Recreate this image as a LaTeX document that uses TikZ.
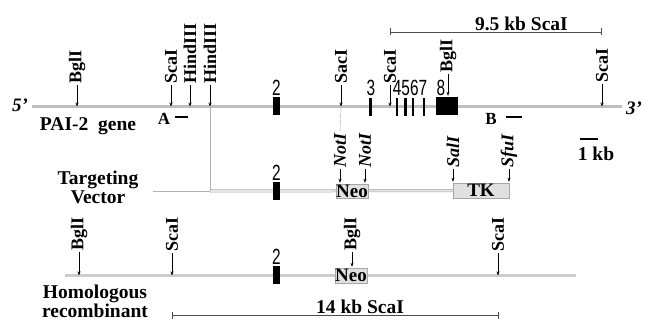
\documentclass[tikz,border=0pt]{standalone}
\usepackage{fontspec}
\usepackage{graphicx}
\setmainfont{Liberation Serif}
\setsansfont{Liberation Sans}
\usetikzlibrary{arrows.meta,positioning}
\newcommand{\exlab}[1]{\scalebox{0.7}[1]{#1}}

\begin{document}
\begin{tikzpicture}[x=1pt,y=-1pt,
  lbl/.style={font=\fontsize{19.5}{21}\selectfont\bfseries,inner sep=1pt,text=black},
  small/.style={font=\fontsize{17}{19}\selectfont\bfseries,inner sep=1pt},
  site/.style={font=\fontsize{18}{20}\selectfont\bfseries,inner sep=1pt,rotate=90,anchor=west},
  isite/.style={site,font=\fontsize{18}{20}\selectfont\bfseries\itshape},
  prime/.style={font=\fontsize{19}{21}\selectfont\bfseries\itshape,inner sep=0pt},
  exnum/.style={font=\fontsize{22}{22}\selectfont\sffamily,inner sep=0pt},
  exon/.style={fill=black,draw=none,inner sep=0pt,minimum height=18pt},
  bar/.style={fill=black,draw=none,inner sep=0pt,minimum height=2.5pt},
  gene/.style={line width=3pt,draw=black!25},
  vec/.style={line width=0.5pt,draw=black!35,double=black!10,double distance=2pt},
  thin/.style={line width=0.4pt,draw=black!30},
  box/.style={draw=black!35,fill=black!12,inner sep=0pt,font=\fontsize{19}{21}\selectfont\bfseries},
  sitearr/.style={-{Stealth[length=4pt,width=3pt]},line width=0.6pt,shorten >=1pt},
  bracket/.style={{Bar[width=7pt]}-{Bar[width=7pt]},line width=0.6pt,black!70}]
\useasboundingbox (0,0) rectangle (645,321);

% PAI-2 gene
\coordinate (g5) at (32,106);
\coordinate (g3) at (622,106);
\draw[gene] (g5) -- (g3);
\node[prime] (p5) at (20,105) {5'};
\node[prime] (p3) at (634,108) {3'};
\node[lbl,anchor=base] (gname) at (88,130) {PAI-2\ \ gene};

\node[exon,minimum width=7pt] (e2) at (276.5,106) {};
\node[exon,minimum width=3.5pt] (e3) at (370.5,107) {};
\node[exon,minimum width=2.5pt] (e4) at (397,107) {};
\node[exon,minimum width=2.5pt] (e5) at (405.5,107) {};
\node[exon,minimum width=2.5pt] (e6) at (413,107) {};
\node[exon,minimum width=2.5pt] (e7) at (424,107) {};
\node[exon,minimum width=22pt] (e8) at (447,106) {};
\node[exnum] (n2) at (276.5,88) {\exlab{2}};
\node[exnum] (n3) at (371,88) {\exlab{3}};
\node[exnum] (n47) at (410,88) {\exlab{4567}};
\node[exnum] (n8) at (441,88) {\exlab{8}};

\node[site] (bgA) at (77,85) {BglI};
\node[site] (scA) at (171,85) {ScaI};
\node[site] (hiA) at (190,85) {HindIII};
\node[site] (hiB) at (210,85) {HindIII};
\node[site] (saA) at (341,85) {SacI};
\node[site] (scB) at (390,85) {ScaI};
\node[site] (bgB) at (448,74) {BglI};
\node[site] (scC) at (602,84) {ScaI};
\foreach \s in {bgA,scA,hiA,hiB,saA,scB,scC}
  \draw[sitearr] (\s.west) -- ([yshift=-1.5pt]\s.west |- g5);
\draw[sitearr] (bgB.west) -- (bgB.west |- e8.north);

\node[small,anchor=base] (prA) at (164,124) {A};
\node[bar,minimum width=13pt] (barA) at (181.5,117) {};
\node[small,anchor=base] (prB) at (491,124) {B};
\node[bar,minimum width=16pt] (barB) at (514,117) {};

\coordinate (b9a) at (390,32);
\coordinate (b9b) at (602,32);
\draw[bracket] (b9a) -- node[lbl,above,pos=0.62] {9.5 kb ScaI} (b9b);

\node[fill=black,inner sep=0pt,minimum width=18pt,minimum height=1.5pt] (kb) at (589,139) {};
\node[lbl,anchor=base] (kbl) at (596,160) {1 kb};

% Targeting vector
\coordinate (v0) at (153,191);
\coordinate (v1) at (hiB.west |- v0);
\node[lbl,align=center] (vname) at (98,187) {Targeting\\[-2pt]Vector};
\node[box,minimum width=56pt,minimum height=15pt] (tk) at (481,190.5) {TK};
\draw[thin] (v0) -- (v1);
\draw[vec] (v1) -- (tk.west);
\node[exon,minimum width=7pt] (ve2) at (276.5,191) {};
\node[exnum] (vn2) at (276.5,173) {\exlab{2}};
\node[box,minimum width=28pt,minimum height=14pt] (neoV) at (352,191) {Neo};

\node[isite] (noA) at (340,169) {NotI};
\node[isite] (noB) at (365,169) {NotI};
\node[isite] (slV) at (453,169) {SalI};
\node[isite] (sfV) at (509,169) {SfuI};
\foreach \s in {noA,noB}
  \draw[sitearr] (\s.west) -- (\s.west |- neoV.north);
\foreach \s in {slV,sfV}
  \draw[sitearr] (\s.west) -- (\s.west |- tk.north);

\draw[thin] (hiB.west |- g5) -- (v1);
\draw[thin] (saA.west |- g5) -- (noA.east);

% Homologous recombinant
\coordinate (r5) at (65,275);
\coordinate (r3) at (576,275);
\draw[gene,draw=black!20] (r5) -- (r3);
\node[lbl,align=center] (rname) at (95,301) {Homologous\\[-2pt]recombinant};
\node[exon,minimum width=7pt] (re2) at (276.5,275) {};
\node[exnum] (rn2) at (276.5,257) {\exlab{2}};
\node[box,minimum width=28pt,minimum height=15pt] (neoR) at (351,275.5) {Neo};

\node[site] (bgR) at (79,252) {BglI};
\node[site] (scR) at (172,253) {ScaI};
\node[site] (bgN) at (352,252) {BglI};
\node[site] (scS) at (498,253) {ScaI};
\foreach \s in {bgR,scR,scS}
  \draw[sitearr] (\s.west) -- ([yshift=-1.5pt]\s.west |- r5);
\draw[sitearr] (bgN.west) -- (bgN.west |- neoR.north);

\coordinate (b14a) at (172,315);
\coordinate (b14b) at (499,315);
\draw[bracket] (b14a) -- node[lbl,above,pos=0.575] {14 kb ScaI} (b14b);
\end{tikzpicture}
\end{document}
